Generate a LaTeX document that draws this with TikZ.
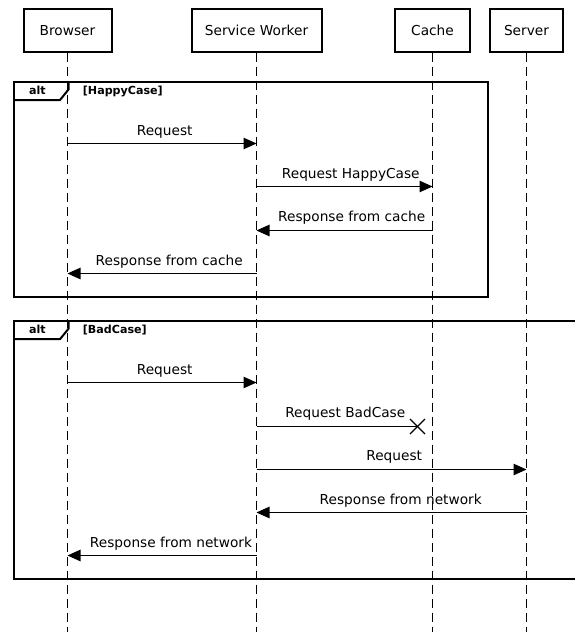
\documentclass[tikz,border=0pt]{standalone}
\usepackage{fontspec}
\setmainfont{DejaVu Sans}
\usetikzlibrary{arrows.meta,calc}

\tikzset{
  actor/.style={draw, line width=2pt, minimum height=43pt, inner sep=0pt,
    text height=10pt, text depth=0pt, font=\fontsize{13.7}{16}\selectfont},
  lifeline/.style={line width=1pt, dash pattern=on 9pt off 5pt},
  msgline/.style={line width=1.1pt, -{Triangle[length=13pt,width=11.5pt]}},
  lostline/.style={line width=1.1pt},
  msglabel/.style={anchor=base, inner sep=0pt, font=\fontsize{13.7}{16}\selectfont},
  fragment/.style={line width=2pt},
  tablabel/.style={anchor=base, inner sep=0pt, font=\fontsize{11.1}{13}\selectfont\bfseries},
}

\begin{document}
\begin{tikzpicture}[x=1pt, y=-1pt]
  \clip (0,0) rectangle (575,632);
  \fill[white] (0,0) rectangle (575,632);

  % participants
  \node[actor, minimum width=88pt]  (browser) at (67.5,30)  {Browser};
  \node[actor, minimum width=130pt] (sw)      at (256.5,30) {Service Worker};
  \node[actor, minimum width=75pt]  (cache)   at (432.5,30) {Cache};
  \node[actor, minimum width=73pt]  (server)  at (526.5,30) {Server};

  % lifelines
  \coordinate (browserEnd) at (67.5,640);
  \coordinate (swEnd)      at (256.5,640);
  \coordinate (cacheEnd)   at (432.5,640);
  \coordinate (serverEnd)  at (526.5,640);
  \draw[lifeline] (browser.south) -- (browserEnd);
  \draw[lifeline] (sw.south)      -- (swEnd);
  \draw[lifeline] (cache.south)   -- (cacheEnd);
  \draw[lifeline] (server.south)  -- (serverEnd);

  % alt fragment: HappyCase
  \draw[fragment] (13.5,81.5) rectangle (487.5,296.5);
  \draw[fragment] (13.5,100) -- (60,100) -- (68.5,89.5) -- (68.5,81.5);
  \node[tablabel] (alt1) at (37.5,94.7) {alt};
  \node[tablabel, anchor=base west] (guard1) at (82.7,94.7) {[HappyCase]};

  % alt fragment: BadCase (runs past the right edge)
  \draw[fragment] (13.5,320.5) rectangle (600,579);
  \draw[fragment] (13.5,339.2) -- (60,339.2) -- (68.5,328.7) -- (68.5,320.5);
  \node[tablabel] (alt2) at (37.5,333.9) {alt};
  \node[tablabel, anchor=base west] (guard2) at (82.7,333.9) {[BadCase]};

  % messages, HappyCase
  \coordinate (m1a) at (browser |- 0,143.5);
  \coordinate (m1b) at (sw |- 0,143.5);
  \draw[msgline] (m1a) -- (m1b);
  \node[msglabel] (l1) at (164.7,135.2) {Request};

  \coordinate (m2a) at (sw |- 0,186.5);
  \coordinate (m2b) at (cache |- 0,186.5);
  \draw[msgline] (m2a) -- (m2b);
  \node[msglabel] (l2) at (350.8,178.5) {Request HappyCase};

  \coordinate (m3a) at (cache |- 0,230.5);
  \coordinate (m3b) at (sw |- 0,230.5);
  \draw[msgline] (m3a) -- (m3b);
  \node[msglabel] (l3) at (351.7,221.8) {Response from cache};

  \coordinate (m4a) at (sw |- 0,273.5);
  \coordinate (m4b) at (browser |- 0,273.5);
  \draw[msgline] (m4a) -- (m4b);
  \node[msglabel] (l4) at (169.2,265.1) {Response from cache};

  % messages, BadCase
  \coordinate (m5a) at (browser |- 0,382.5);
  \coordinate (m5b) at (sw |- 0,382.5);
  \draw[msgline] (m5a) -- (m5b);
  \node[msglabel] (l5) at (164.7,374.2) {Request};

  % lost message ending in a cross
  \coordinate (m6a) at (sw |- 0,426.5);
  \coordinate (lost) at (417.5,426.5);
  \draw[lostline] (m6a) -- (lost);
  \draw[lostline] ($(lost)+(-7.5,-7.5)$) -- ($(lost)+(7.5,7.5)$);
  \draw[lostline] ($(lost)+(-7.5,7.5)$) -- ($(lost)+(7.5,-7.5)$);
  \node[msglabel] (l6) at (345.3,417.5) {Request BadCase};

  \coordinate (m7a) at (sw |- 0,469.5);
  \coordinate (m7b) at (server |- 0,469.5);
  \draw[msgline] (m7a) -- (m7b);
  \node[msglabel] (l7) at (394.2,460.8) {Request};

  \coordinate (m8a) at (server |- 0,512.5);
  \coordinate (m8b) at (sw |- 0,512.5);
  \draw[msgline] (m8a) -- (m8b);
  \node[msglabel] (l8) at (400.7,504.1) {Response from network};

  \coordinate (m9a) at (sw |- 0,555.5);
  \coordinate (m9b) at (browser |- 0,555.5);
  \draw[msgline] (m9a) -- (m9b);
  \node[msglabel] (l9) at (171,547.5) {Response from network};
\end{tikzpicture}
\end{document}
